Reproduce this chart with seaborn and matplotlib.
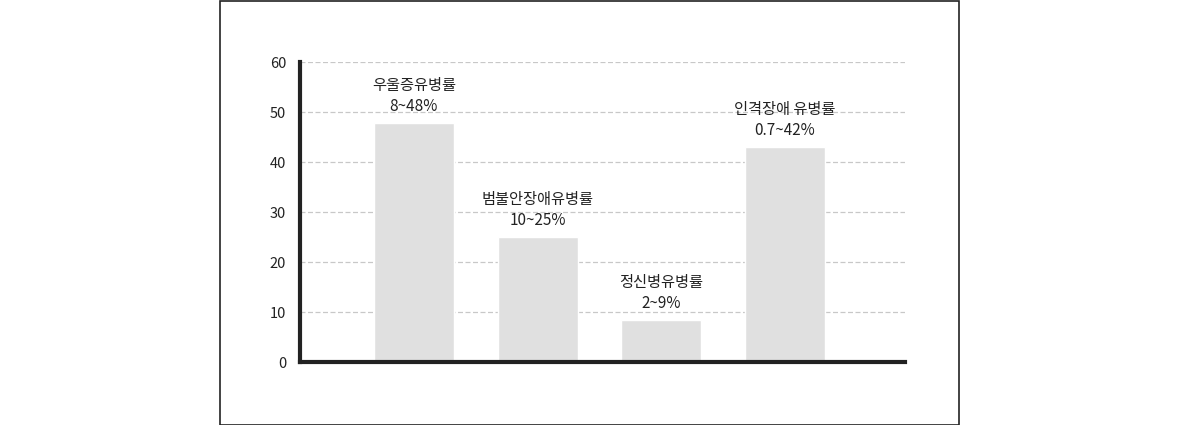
import matplotlib
matplotlib.use("Agg")
import matplotlib.pyplot as plt
import seaborn as sns
import pandas as pd
from matplotlib.patches import Rectangle

categories = ["우울증유병률", "범불안장애유병률", "정신병유병률", "인격장애 유병률"]
ranges = ["8~48%", "10~25%", "2~9%", "0.7~42%"]
values = [47.8, 25, 8.4, 43]
yticks = [0, 10, 20, 30, 40, 50, 60]

sns.set_theme(style="white")
plt.rcParams['font.family'] = ['Noto Sans CJK KR', 'DejaVu Sans']

df = pd.DataFrame({"cat": categories, "val": values})

W, H = 1180, 425
fig = plt.figure(figsize=(W / 100, H / 100), dpi=100)
ax = fig.add_axes([300 / W, 1 - 362 / H, 605 / W, 300 / H])

sns.barplot(data=df, x="cat", y="val", color="#e0e0e0", saturation=1,
            width=0.647, ax=ax, zorder=2)

ax.set_xlim(-0.92, 3.97)
ax.set_ylim(0, 60)
ax.set_yticks(yticks)
ax.set_yticklabels([str(t) for t in yticks], fontsize=10.5, color="#222222")
ax.set_xticks([])
ax.set_xlabel("")
ax.set_ylabel("")
ax.tick_params(axis="y", length=0, pad=10)
ax.yaxis.grid(True, linestyle=(0, (4, 2)), color="#c8c8c8", linewidth=0.9, zorder=0)
ax.set_axisbelow(True)

for s in ["top", "right"]:
    ax.spines[s].set_visible(False)
for s in ["left", "bottom"]:
    ax.spines[s].set_linewidth(3)
    ax.spines[s].set_color("#222222")
    ax.spines[s].set_zorder(5)

for i, (c, r, v) in enumerate(zip(categories, ranges, values)):
    ax.annotate(f"{c}\n{r}", xy=(i, v), xytext=(0, 6), textcoords="offset points",
                ha="center", va="bottom", fontsize=11, color="#222222",
                linespacing=1.3)

fig.patches.append(Rectangle((220 / W, 0.5 / H), 739 / W, 1 - 1 / H,
                             transform=fig.transFigure, fill=False,
                             edgecolor="#222222", linewidth=1.2))

fig.savefig("out.png", dpi=100)
